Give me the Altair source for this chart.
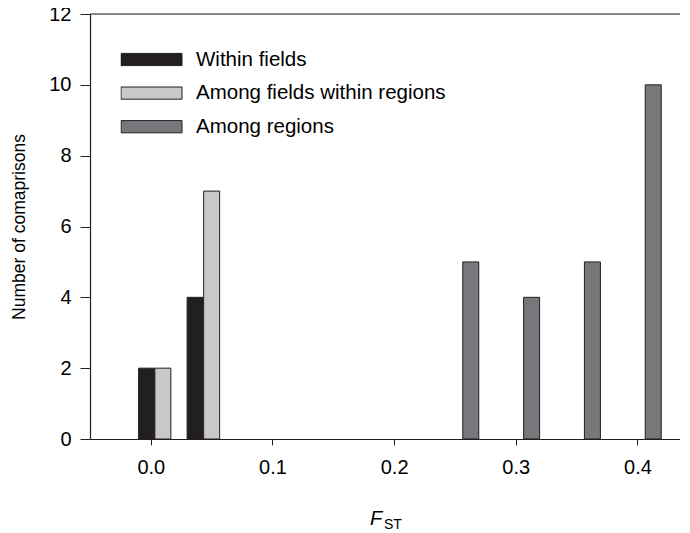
import altair as alt
import pandas as pd

# ---- data ----
series = ["Within fields", "Within fields",
          "Among fields within regions", "Among fields within regions",
          "Among regions", "Among regions", "Among regions", "Among regions"]
fst = [-0.0035, 0.0364, 0.0099, 0.0500, 0.263, 0.313, 0.363, 0.413]
counts = [2, 4, 2, 7, 5, 4, 5, 10]

series_order = ["Within fields", "Among fields within regions", "Among regions"]
series_colors = ["#231f20", "#c7c8ca", "#77787b"]
x_ticks = [0.0, 0.1, 0.2, 0.3, 0.4]
y_ticks = [0, 2, 4, 6, 8, 10, 12]

df = pd.DataFrame({"series": series, "fst": fst, "count": counts})
one = pd.DataFrame({"k": [0]})

W, H = 590, 425
FONT = "Liberation Sans"
INK = "#231f20"

bars = alt.Chart(df).mark_bar(size=16, stroke=INK, strokeWidth=1, opacity=1).encode(
    x=alt.X("fst:Q",
            scale=alt.Scale(domain=[-0.05, 0.435], nice=False, zero=False, padding=0),
            axis=alt.Axis(values=x_ticks, format=".1f", title=None, grid=False,
                          tickSize=6, tickColor=INK, domainColor=INK, domainWidth=1.2,
                          labelFontSize=20, labelFont=FONT, labelColor="#000",
                          labelPadding=12)),
    y=alt.Y("count:Q",
            scale=alt.Scale(domain=[0, 12], nice=False, padding=0),
            axis=alt.Axis(values=y_ticks, title="Number of comaprisons", grid=False,
                          tickSize=10, tickColor=INK, domainColor=INK, domainWidth=1.2,
                          labelFontSize=20, labelFont=FONT, labelColor="#000",
                          labelPadding=9,
                          titleFontSize=17.5, titleFont=FONT, titleFontWeight="normal",
                          titleColor="#000", titlePadding=20)),
    fill=alt.Fill("series:N",
                  scale=alt.Scale(domain=series_order, range=series_colors),
                  legend=alt.Legend(title=None, orient="none", legendX=30.5, legendY=35.5,
                                    symbolType="M-1,-0.2H1V0.2H-1Z", symbolSize=3721,
                                    symbolStrokeColor=INK, symbolStrokeWidth=1,
                                    symbolOpacity=1, clipHeight=20, rowPadding=12.6,
                                    labelFontSize=20.5, labelFont=FONT, labelColor="#000",
                                    labelOffset=13.5, labelLimit=400)),
)

top_line = alt.Chart(one).mark_rule(color=INK, strokeWidth=1.2).encode(
    x=alt.value(0), x2=alt.value(W), y=alt.value(0)
)

title_f = alt.Chart(one).mark_text(text="F", fontStyle="italic", fontWeight="normal",
                                   fontSize=20, font=FONT, align="left",
                                   baseline="alphabetic", color="#000").encode(
    x=alt.value(280), y=alt.value(511)
)
title_st = alt.Chart(one).mark_text(text="ST", fontWeight="normal", fontSize=14, font=FONT,
                                    align="left", baseline="alphabetic", color="#000").encode(
    x=alt.value(294), y=alt.value(515)
)

chart = alt.layer(bars, top_line, title_f, title_st).properties(
    width=W, height=H,
    autosize=alt.AutoSizeParams(type="none"),
    padding={"left": 82, "top": 6, "right": 0, "bottom": 92},
).configure_view(stroke=None).configure(background="white")

chart.save("out.html", embed_options={"renderer": "svg", "actions": False})
